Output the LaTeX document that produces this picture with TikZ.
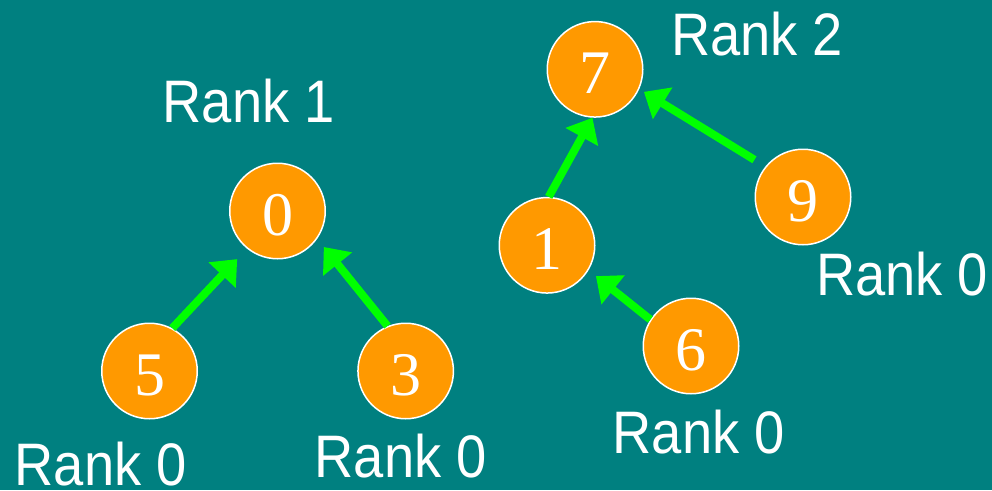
\documentclass[tikz,border=0pt]{standalone}
\usepackage{fontspec}
\setmainfont{Liberation Serif}
\newfontfamily\rankfont[FakeStretch=0.905]{Liberation Sans}
\usetikzlibrary{arrows.meta}
\definecolor{bgteal}{HTML}{008080}
\definecolor{nodeorange}{HTML}{FF9900}
\definecolor{linkgreen}{HTML}{00FF00}
\tikzset{
  elem/.style={circle, draw=white, line width=1.5pt, fill=nodeorange,
    minimum size=95.5pt, inner sep=0pt, text=white,
    font=\fontsize{62}{62}\selectfont, text height=48pt, text depth=0pt},
  ranklabel/.style={anchor=base west, inner sep=0pt, text=white,
    font=\rankfont\fontsize{60}{60}\selectfont},
  parentlink/.style={draw=linkgreen, line width=8pt,
    -{Triangle[length=22pt, width=36pt]}, fill=linkgreen}
}
\begin{document}
\begin{tikzpicture}[x=1pt, y=-1pt]
  % background
  \fill[bgteal] (0,0) rectangle (992,490);
  \useasboundingbox (0,0) rectangle (992,490);

  % left tree
  \node[elem] (n0) at (277.5,211) {0};
  \node[elem] (n5) at (149.5,371) {5};
  \node[elem] (n3) at (405.7,371) {3};

  % right tree
  \node[elem] (n7) at (595,69.3) {7};
  \node[elem] (n1) at (547,245.3) {1};
  \node[elem] (n9) at (803,197) {9};
  \node[elem] (n6) at (691,346) {6};

  % links to parents
  \draw[parentlink, shorten >=14.3pt] (n5.62) -- (n0.231);
  \draw[parentlink, shorten >=10.5pt] (n3.112) -- (n0.325);
  \draw[parentlink] (n1.88) -- (n7.267);
  \draw[parentlink, shorten <=12.75pt, shorten >=5.4pt] (n9.141) -- (n7.336);
  \draw[parentlink, shorten >=9.4pt] (n6.147) -- (n1.329);

  % rank labels
  \node[ranklabel] (r0) at (162.5,122) {Rank 1};
  \node[ranklabel] (r7) at (671,55) {Rank 2};
  \node[ranklabel] (r5) at (14.5,485.5) {Rank 0};
  \node[ranklabel] (r3) at (314.5,477) {Rank 0};
  \node[ranklabel] (r9) at (816,295) {Rank 0};
  \node[ranklabel] (r6) at (612.5,453) {Rank 0};
\end{tikzpicture}
\end{document}
